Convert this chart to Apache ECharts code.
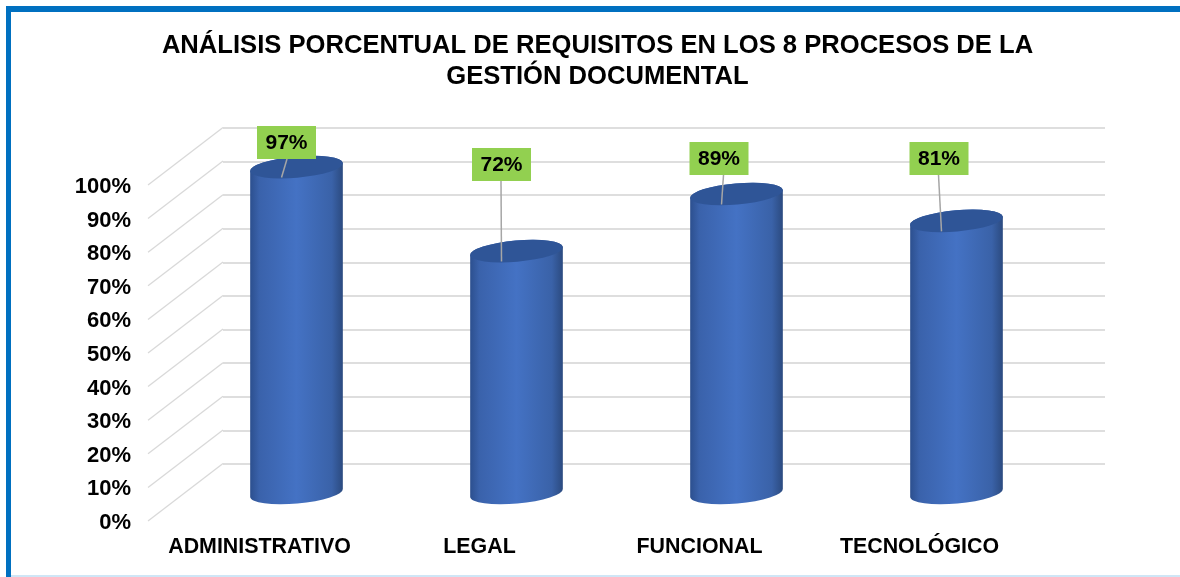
<!DOCTYPE html>
<html><head><meta charset="utf-8">
<style>html,body{margin:0;padding:0;background:#fff}#c{width:1180px;height:577px}</style>
<script src="https://cdn.jsdelivr.net/npm/echarts@6/dist/echarts.min.js"></script>
</head><body><div id="c"></div>
<script>
const titleText = "ANÁLISIS PORCENTUAL DE REQUISITOS EN LOS 8 PROCESOS DE LA\nGESTIÓN DOCUMENTAL";
const categories = ["ADMINISTRATIVO", "LEGAL", "FUNCIONAL", "TECNOLÓGICO"];
const values = [97, 72, 89, 81];
const wallTicks = [0, 10, 20, 30, 40, 50, 60, 70, 80, 90, 100];

// styling / layout constants (not data)
const FONT = '"Liberation Sans", Arial, sans-serif';
const depth = { dx: 75, dy: -57.5, startDy: -2 };
const labelOffsets = [[-10, -24.6], [-15, -86.6], [-17.5, -35.5], [-17.5, -62.3]];
const leaderTopDx = [-9.5, -15.5, -13, -18];
const chart = echarts.init(document.getElementById('c'));

function cylinder(params, api) {
  const i = api.value(0);
  const top = api.coord([i, api.value(1)]);
  const base = api.coord([i, 0]);
  const cx = top[0], a = 46.5, b = 10.6, rot = -5;
  const t = rot * Math.PI / 180;
  const ex = a * Math.cos(t), ey = a * Math.sin(t);
  const arc = `A ${a} ${b} ${rot}`;
  const TL = [cx - ex, top[1] - ey], TR = [cx + ex, top[1] + ey];
  const BL = [cx - ex, base[1] - ey], BR = [cx + ex, base[1] + ey];
  const bodyPath = `M ${TL[0]} ${TL[1]} L ${BL[0]} ${BL[1]} ${arc} 0 0 ${BR[0]} ${BR[1]} L ${TR[0]} ${TR[1]} ${arc} 0 0 ${TL[0]} ${TL[1]} Z`;
  const capPath = `M ${TL[0]} ${TL[1]} ${arc} 0 0 ${TR[0]} ${TR[1]} ${arc} 0 0 ${TL[0]} ${TL[1]} Z`;
  const off = labelOffsets[i];
  const bw = 59, bh = 33;
  const bx = cx + off[0], by = top[1] + off[1];
  const text = values[i] + '%';
  return { type: 'group', children: [
    { type: 'path', shape: { pathData: bodyPath },
      style: { fill: new echarts.graphic.LinearGradient(0, 0, 1, 0, [
        { offset: 0, color: '#2c4f8e' }, { offset: 0.1, color: '#3a62ab' }, { offset: 0.5, color: '#4472c4' },
        { offset: 0.88, color: '#3a62a8' }, { offset: 1, color: '#2b4a7f' }]) } },
    { type: 'path', shape: { pathData: capPath }, style: { fill: '#2f5597' } },
    { type: 'line', shape: { x1: cx + leaderTopDx[i], y1: by + bh/2, x2: cx - 15, y2: top[1] + 10.5 },
      style: { stroke: '#a6a6a6', lineWidth: 1.5 } },
    { type: 'rect', shape: { x: bx - bw/2, y: by - bh/2, width: bw, height: bh }, style: { fill: '#92d050' } },
    { type: 'text', x: bx, y: by + 1, style: { text: text, fill: '#000', font: 'bold 21px ' + FONT, align: 'center', verticalAlign: 'middle' } }
  ]};
}

function diagonal(params, api) {
  const y = api.coord([0, api.value(0)])[1] + depth.startDy;
  const x = params.coordSys.x;
  return { type: 'line', shape: { x1: x, y1: y, x2: x + depth.dx, y2: y + depth.dy },
    style: { stroke: '#d9d9d9', lineWidth: 1.3 } };
}

chart.setOption({
  animation: false,
  backgroundColor: '#fff',
  title: { text: titleText, left: 592.5, top: 25, textAlign: 'center',
    textStyle: { fontFamily: FONT, fontSize: 25.6, fontWeight: 'bold', color: '#000', lineHeight: 31 } },
  graphic: [
    { type: 'rect', z: 100, shape: { x: 6, y: 6, width: 1174, height: 6 }, style: { fill: '#0070c0' } },
    { type: 'rect', z: 100, shape: { x: 6, y: 6, width: 5, height: 571 }, style: { fill: '#0070c0' } },
    { type: 'rect', z: 100, shape: { x: 11, y: 575, width: 1169, height: 2 }, style: { fill: '#cfe6f6' } }
  ],
  grid: [
    { left: 223, width: 882, top: 128, height: 336 },
    { left: 148, width: 880, top: 187, height: 336 },
    { left: 186.5, width: 880, top: 157, height: 336 }
  ],
  xAxis: [
    { gridIndex: 0, type: 'value', min: 0, max: 1, show: false },
    { gridIndex: 1, type: 'category', data: categories, axisLine: { show: false }, axisTick: { show: false },
      axisLabel: { margin: 14, padding: [0, 0, 0, 3], color: '#000', fontFamily: FONT, fontSize: 21.4, fontWeight: 'bold', interval: 0 } },
    { gridIndex: 2, type: 'category', data: categories, show: false }
  ],
  yAxis: [
    { gridIndex: 0, type: 'value', min: 0, max: 100, interval: 10, axisLine: { show: false }, axisTick: { show: false }, axisLabel: { show: false },
      splitLine: { show: true, lineStyle: { color: '#dedede', width: 2 } } },
    { gridIndex: 1, type: 'value', min: 0, max: 100, interval: 10, axisLine: { show: false }, axisTick: { show: false }, splitLine: { show: false },
      axisLabel: { margin: 17, color: '#000', fontFamily: FONT, fontSize: 22, fontWeight: 'bold', formatter: '{value}%' } },
    { gridIndex: 2, type: 'value', min: 0, max: 100, show: false }
  ],
  series: [
    { type: 'custom', xAxisIndex: 1, yAxisIndex: 1, renderItem: diagonal, data: wallTicks.map(v => [v]), encode: { y: 0 }, silent: true, z: 1, clip: false },
    { type: 'custom', xAxisIndex: 2, yAxisIndex: 2, renderItem: cylinder, data: values.map((v, i) => [i, v]), encode: { x: 0, y: 1 }, silent: true, z: 5, clip: false }
  ]
});
</script></body></html>
